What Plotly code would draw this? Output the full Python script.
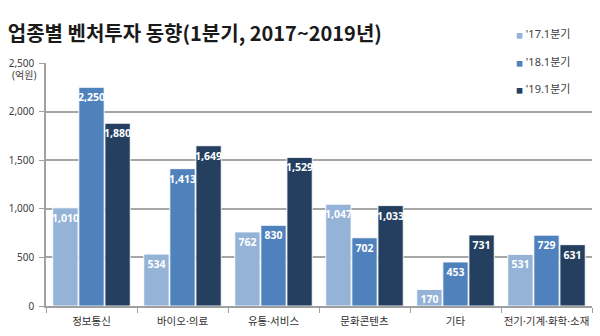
import plotly.graph_objects as go

categories = ["정보통신", "바이오·의료", "유통·서비스", "문화콘텐츠", "기타", "전기·기계·화학·소재"]
series_names = ["'17.1분기", "'18.1분기", "'19.1분기"]
v2017 = [1010, 534, 762, 1047, 170, 531]
v2018 = [2250, 1413, 830, 702, 453, 729]
v2019 = [1880, 1649, 1529, 1033, 731, 631]
colors = ["#95B3D7", "#4F81BD", "#243F60"]
tick_vals = [0, 500, 1000, 1500, 2000, 2500]
tick_text = ["0", "500", "1,000", "1,500", "2,000", "2,500"]

FONT = "Noto Sans, Noto Sans CJK KR"
TFONT = "Noto Sans CJK KR"
fig = go.Figure()
for name, vals, col in zip(series_names, [v2017, v2018, v2019], colors):
    fig.add_trace(go.Bar(
        x=categories, y=vals, name=name, marker_color=col,
        marker_line=dict(color="rgba(255,255,255,0.9)", width=1),
        text=[f"{v:,}" for v in vals], textposition="inside",
        insidetextanchor="end", textangle=0,
        textfont=dict(color="white", size=10.5, family="Noto Sans", weight="bold"),
        showlegend=False, hoverinfo="skip"))

fig.update_layout(
    width=600, height=336,
    margin=dict(l=46, r=8, t=63, b=30),
    paper_bgcolor="white", plot_bgcolor="white",
    barmode="group", bargap=0.14, bargroupgap=0.03,
    uniformtext=dict(minsize=10.5, mode="show"),
    font=dict(family=FONT, color="#404040"),
    showlegend=False,
    title=dict(text="<b>업종별 벤처투자 동향(1분기, 2017~2019년)</b>",
               x=0.013, xanchor="left", y=0.9, yanchor="middle",
               font=dict(size=20, color="#1a1a1a", family=TFONT)),
    xaxis=dict(showline=True, linecolor="#A0A0A0", linewidth=1.5,
               ticks="outside", tickson="boundaries", ticklen=5,
               tickcolor="#A0A0A0", tickangle=0, automargin=False,
               ticklabelstandoff=5,
               tickfont=dict(size=10.5, color="#303030", family=FONT)),
    yaxis=dict(range=[0, 2500], tickvals=tick_vals, ticktext=tick_text,
               showline=True, linecolor="#A0A0A0", linewidth=1.5,
               ticks="outside", ticklen=5, tickcolor="#A0A0A0",
               showgrid=True, gridcolor="#A6A6A6", gridwidth=1.5,
               zeroline=False, automargin=False, ticklabelstandoff=3,
               tickfont=dict(size=10, color="#404040", family=FONT)),
)
# white panel behind the legend, hiding the end of the top gridline
fig.add_shape(type="rect", xref="paper", yref="paper", x0=0.838, x1=1.01,
              y0=0.97, y1=1.2, fillcolor="white", line_width=0, layer="above")
fig.add_annotation(text="(억원)", xref="paper", yref="y", x=0, y=2500,
                   xanchor="right", yanchor="middle", xshift=-8, yshift=-12,
                   showarrow=False, font=dict(size=10, color="#404040", family=FONT))
# legend as text
leg_y = [1.12, 1.005, 0.895]
for name, col, yy in zip(series_names, colors, leg_y):
    fig.add_annotation(
        text=f"<span style='color:{col};font-size:7px'>■</span> {name}",
        xref="paper", yref="paper", x=0.858, y=yy, xanchor="left", yanchor="middle",
        showarrow=False, font=dict(size=11, color="#404040", family=FONT))

fig.write_html("out.html")
